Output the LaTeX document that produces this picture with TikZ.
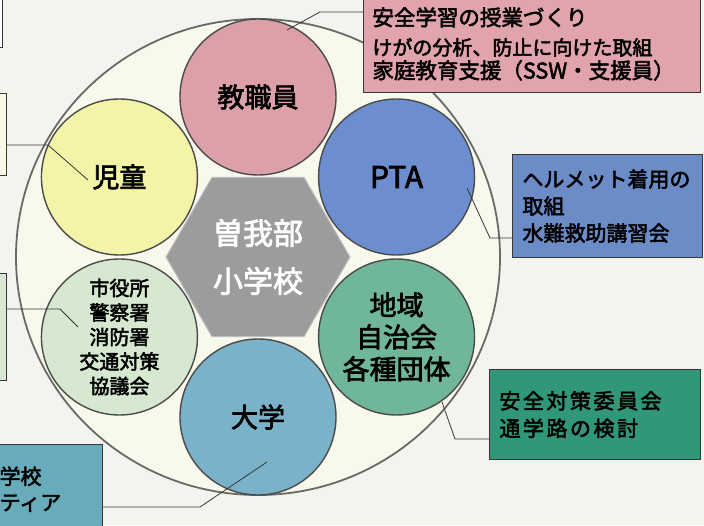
\documentclass[tikz,border=0pt]{standalone}
\usepackage{fontspec}
\setmainfont{Noto Sans CJK JP}[FakeBold=2.5]
\usetikzlibrary{shapes.geometric}

\definecolor{bgcol}{RGB}{244,244,238}
\definecolor{ringfill}{RGB}{249,248,236}
\definecolor{ringedge}{RGB}{105,105,105}
\definecolor{hexfill}{RGB}{156,156,156}
\definecolor{hexedge}{RGB}{190,190,190}
\definecolor{edgegray}{RGB}{75,75,75}
\definecolor{boxedge}{RGB}{55,55,55}
\definecolor{pinkfill}{RGB}{222,160,168}
\definecolor{yellowfill}{RGB}{244,244,168}
\definecolor{bluefill}{RGB}{108,142,206}
\definecolor{greenfill}{RGB}{112,182,152}
\definecolor{unifill}{RGB}{122,178,202}
\definecolor{palefill}{RGB}{214,233,208}
\definecolor{pinkbox}{RGB}{226,164,172}
\definecolor{ptabox}{RGB}{108,140,200}
\definecolor{greenbox}{RGB}{48,152,120}
\definecolor{unibox}{RGB}{104,172,188}
\definecolor{citybox}{RGB}{214,232,210}
\definecolor{pupilbox}{RGB}{250,250,228}

\tikzset{
  member/.style={circle, draw=edgegray, line width=1.4pt, minimum size=156pt,
    inner sep=0pt, align=center, font=\fontsize{27}{32}\selectfont},
  infobox/.style={rectangle, draw=boxedge, line width=0.9pt, align=left,
    inner xsep=9pt},
  leader/.style={draw=boxedge, line width=0.8pt}
}

\begin{document}
\begin{tikzpicture}[x=1pt,y=1pt]
      \useasboundingbox (-258,-268) rectangle (446,257);
      \clip (-258,-268) rectangle (446,257);
      \fill[bgcol] (-258,-268) rectangle (446,257);
      \draw[ringedge, fill=ringfill, line width=1.8pt]
        (0,0) ellipse [x radius=242, y radius=238];
      \node[regular polygon, regular polygon sides=6, minimum size=184pt,
        inner sep=0pt, fill=hexfill, draw=hexedge, line width=1pt, text=white,
        align=center, font=\fontsize{30}{48}\selectfont] (school) at (0,0) {曽我部\\小学校};
      \draw
        (90:160) node[member, fill=pinkfill] (staff){教職員}
        (150:160) node[member, fill=yellowfill] (pupils){児童}
        (30:160) node[member, fill=bluefill, font=\fontsize{30}{34}\selectfont] (pta){PTA}
        (-30:160) node[member, fill=greenfill] (local){地域\\自治会\\各種団体}
        (-90:160) node[member, fill=unifill] (uni){大学}
        (210:160) node[member, fill=palefill,
          font=\fontsize{20}{24.5}\selectfont] (city){市役所\\警察署\\消防署\\交通対策\\協議会};
      \node[infobox, fill=pinkbox, anchor=south west, text width=319pt, inner ysep=12pt,
        font=\fontsize{21.5}{29.5}\selectfont] (staffbox) at (105,164)
        {安全学習の授業づくり\\{\fontsize{20}{24}\selectfont けがの分析、防止に向けた取組}\\[-6pt]家庭教育支援（SSW・支援員）};
      \node[infobox, fill=ptabox, anchor=south west, minimum height=103pt, text width=170pt,
        inner xsep=10pt, font=\fontsize{21}{27}\selectfont] (ptabox) at (254,-1)
        {ヘルメット着用の\\取組\\水難救助講習会};
      \node[infobox, fill=greenbox, anchor=south west, minimum height=90pt, text width=191pt,
        inner xsep=10pt, font=\fontsize{21}{27.5}\selectfont\addfontfeature{LetterSpace=12}] (localbox) at (231,-203)
        {安全対策委員会\\通学路の検討};
      \node[infobox, fill=unibox, anchor=north east, text width=93pt, inner xsep=10pt,
        inner ysep=22pt, font=\fontsize{21}{26}\selectfont] (unibox) at (-155,-187)
        {学校\\ティア};
      \node[infobox, fill=citybox, anchor=north east, minimum width=60pt,
        minimum height=107pt] (citybox) at (-251,-16) {};
      \node[infobox, fill=pupilbox, anchor=north east, minimum width=60pt,
        minimum height=82pt] (pupilbox) at (-251,164) {};
      \node[infobox, fill=white, anchor=south east, minimum width=60pt,
        minimum height=80pt] (topbox) at (-255,209) {};
      \coordinate (staff-tip) at (29,227);
      \coordinate (staff-bend) at (62,245);
      \coordinate (pupils-tip) at (-170,77);
      \coordinate (pupils-bend) at (-210,112);
      \coordinate (pta-tip) at (209,69);
      \coordinate (pta-bend) at (232,19);
      \coordinate (local-tip) at (184,-145);
      \coordinate (local-bend) at (197,-182);
      \coordinate (uni-tip) at (9,-205);
      \coordinate (uni-bend) at (-58,-250);
      \coordinate (city-tip) at (-180,-70);
      \coordinate (city-bend) at (-198,-52);
      \begin{scope}[leader]
        \draw (staff-tip) -- (staff-bend) -- (staff-bend -| staffbox.west);
        \draw (pupils-tip) -- (pupils-bend) -- (pupils-bend -| pupilbox.east);
        \draw (pta-tip) -- (pta-bend) -- (pta-bend -| ptabox.west);
        \draw (local-tip) -- (local-bend) -- (local-bend -| localbox.west);
        \draw (uni-tip) -- (uni-bend) -- (uni-bend -| unibox.east);
        \draw (city-tip) -- (city-bend) -- (city-bend -| citybox.east);
      \end{scope}
    \end{tikzpicture}
\end{document}
